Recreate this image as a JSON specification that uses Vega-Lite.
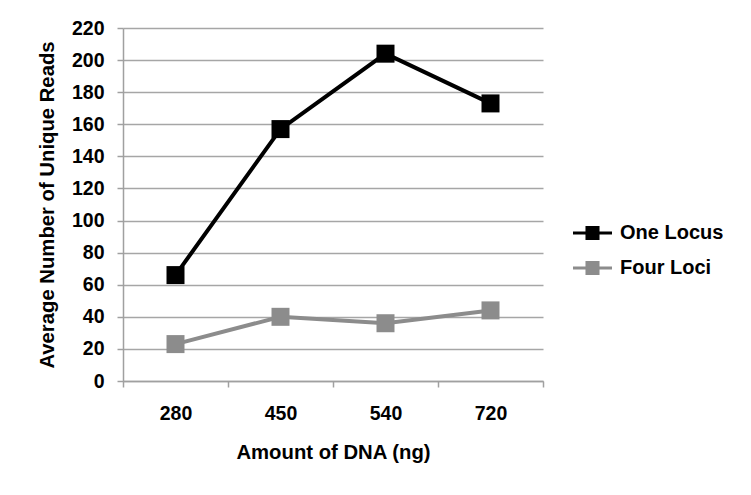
{
  "$schema": "https://vega.github.io/schema/vega-lite/v6.json",
  "width": 420,
  "height": 353,
  "autosize": {"type": "none"},
  "padding": {"left": 123, "top": 28, "right": 208, "bottom": 114},
  "background": "white",
  "config": {
    "font": "Liberation Sans",
    "view": {"stroke": null},
    "axis": {
      "labelFont": "Liberation Sans",
      "labelFontWeight": "bold",
      "labelFontSize": 19.5,
      "labelColor": "#000000",
      "titleFont": "Liberation Sans",
      "titleFontWeight": "bold",
      "titleFontSize": 20.3,
      "titleColor": "#000000",
      "domainColor": "#a0a0a0",
      "domainWidth": 1.5,
      "tickColor": "#a0a0a0",
      "tickWidth": 1.5,
      "tickSize": 6,
      "gridColor": "#a6a6a6",
      "gridWidth": 1.5
    }
  },
  "data": {
    "values": [
      {"dna": "280", "series": "One Locus", "reads": 66},
      {"dna": "450", "series": "One Locus", "reads": 157},
      {"dna": "540", "series": "One Locus", "reads": 204},
      {"dna": "720", "series": "One Locus", "reads": 173},
      {"dna": "280", "series": "Four Loci", "reads": 23},
      {"dna": "450", "series": "Four Loci", "reads": 40},
      {"dna": "540", "series": "Four Loci", "reads": 36},
      {"dna": "720", "series": "Four Loci", "reads": 44}
    ]
  },
  "encoding": {
    "x": {
      "field": "dna",
      "type": "ordinal",
      "sort": ["280", "450", "540", "720"],
      "scale": {"type": "band", "paddingInner": 0, "paddingOuter": 0},
      "title": "Amount of DNA (ng)",
      "axis": {"labelAngle": 0, "tickBand": "extent", "grid": false, "labelPadding": 17, "titlePadding": 20}
    },
    "y": {
      "field": "reads",
      "type": "quantitative",
      "scale": {"domain": [0, 220], "nice": false},
      "title": "Average Number of Unique Reads",
      "axis": {"values": [0, 20, 40, 60, 80, 100, 120, 140, 160, 180, 200, 220], "labelPadding": 13, "titlePadding": 14, "grid": true}
    },
    "color": {
      "field": "series",
      "type": "nominal",
      "scale": {"domain": ["One Locus", "Four Loci"], "range": ["#000000", "#8c8c8c"]},
      "legend": {
        "title": null,
        "orient": "none",
        "legendX": 450,
        "legendY": 195,
        "padding": 0,
        "symbolType": "M-1,-0.08H1V0.08H-1Z M-0.36,-0.36H0.36V0.36H-0.36Z",
        "symbolSize": 1521,
        "symbolStrokeWidth": 0,
        "symbolOpacity": 1,
        "clipHeight": 20,
        "rowPadding": 15,
        "labelOffset": 8,
        "labelFont": "Liberation Sans",
        "labelFontWeight": "bold",
        "labelFontSize": 20,
        "labelColor": "#000000"
      }
    }
  },
  "layer": [
    {"mark": {"type": "line", "strokeWidth": 4}},
    {"mark": {"type": "point", "shape": "square", "filled": true, "size": 324, "opacity": 1}}
  ]
}
